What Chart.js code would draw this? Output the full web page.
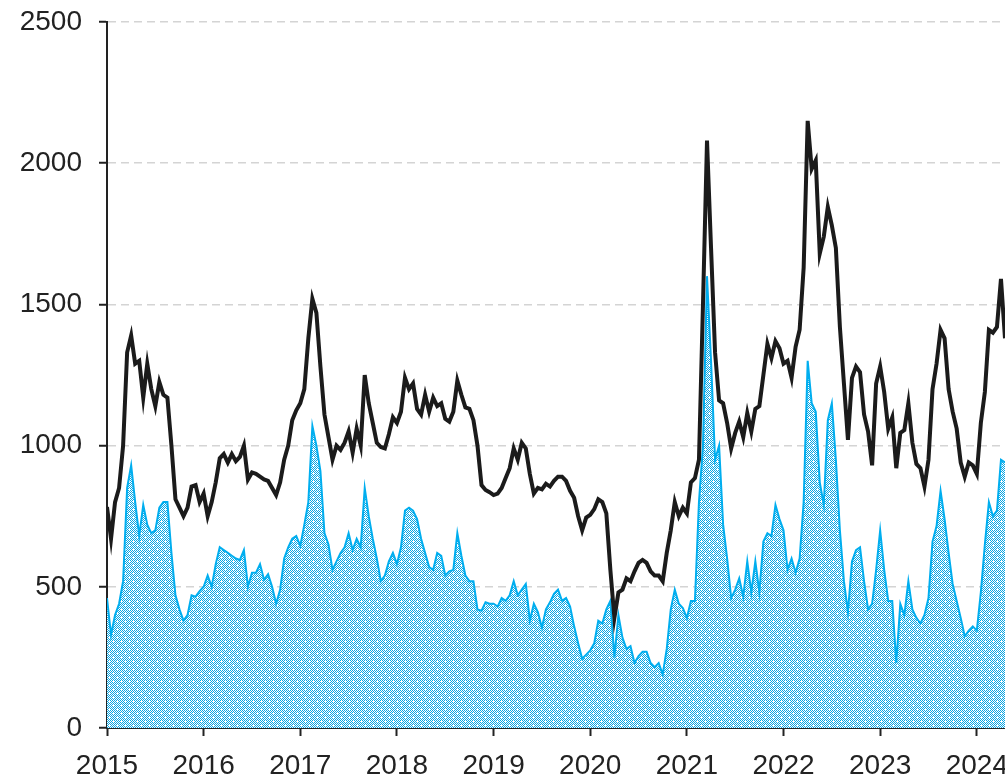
<!DOCTYPE html>
<html>
<head>
<meta charset="utf-8">
<script src="https://cdn.jsdelivr.net/npm/chart.js@4.4.1/dist/chart.umd.min.js"></script>
<style>
  html, body { margin: 0; padding: 0; background: #fff; }
  canvas { display: block; }
</style>
</head>
<body>
<canvas id="priceChart" width="1005" height="777"></canvas>
<script>
// Half-monthly readings, starting January 2015
const startYear = 2015;
const stepsPerYear = 24;

const yearTicks = [2015, 2016, 2017, 2018, 2019, 2020, 2021, 2022, 2023, 2024];
const valueTicks = [0, 500, 1000, 1500, 2000, 2500];

const blackSeries = [
  783, 670, 800, 850, 1000, 1330, 1390, 1290, 1300, 1170, 1290, 1200, 1140, 1225, 1180, 1170, 1000, 810, 780, 750, 780, 855, 860, 800,
  830, 750, 800, 870, 955, 970, 940, 970, 945, 960, 1000, 880, 905, 900, 890, 880, 875, 850, 825, 870, 950, 1000, 1090, 1125,
  1150, 1200, 1380, 1520, 1470, 1280, 1110, 1030, 950, 1000, 985, 1010, 1050, 975, 1060, 1000, 1250, 1150, 1080, 1010, 995, 990, 1040, 1100,
  1080, 1120, 1240, 1200, 1220, 1130, 1110, 1180, 1120, 1170, 1140, 1150, 1095, 1085, 1120, 1230, 1180, 1135, 1130, 1090, 1000, 860, 843, 835,
  825, 830, 850, 885, 920, 990, 950, 1010, 990, 900, 830, 850, 845, 865, 855, 875, 890, 890, 875, 840, 815, 750, 700, 745,
  755, 775, 810, 800, 760, 560, 390, 480, 490, 530, 520, 555, 585, 595, 585, 555, 540, 540, 520, 620, 700, 800, 750, 780,
  760, 870, 885, 950, 1500, 2080, 1700, 1330, 1160, 1150, 1080, 990, 1045, 1085, 1030, 1115, 1050, 1130, 1140, 1250, 1360, 1310, 1370, 1345,
  1290, 1300, 1240, 1350, 1410, 1630, 2150, 1980, 2010, 1680, 1740, 1845, 1780, 1700, 1420, 1220, 1020, 1240, 1280, 1260, 1110, 1050, 930, 1220,
  1280, 1190, 1060, 1100, 920, 1045, 1055, 1150, 1010, 935, 920, 855, 950, 1200, 1290, 1410, 1380, 1200, 1120, 1060, 940, 890, 940, 930,
  900, 1080, 1190, 1410, 1400, 1420, 1590, 1380
];

const blueSeries = [
  460, 330, 400, 440, 520, 850, 930, 800, 680, 790, 720, 690, 700, 780, 800, 800, 620, 470, 420, 380, 400, 470, 465, 485,
  500, 540, 500, 580, 640, 630, 620, 610, 600, 595, 630, 500, 550, 550, 580, 525, 545, 500, 440, 490, 600, 640, 670, 680,
  645, 720, 800, 1070, 1000, 910, 690, 650, 560, 590, 620, 640, 690, 630, 670, 640, 850, 750, 670, 600, 520, 540, 590, 620,
  580, 640, 770, 780, 770, 740, 670, 620, 570, 560, 620, 610, 540, 555, 560, 690, 610, 540, 520, 520, 420, 415, 445, 440,
  440, 430, 460, 450, 470, 520, 470, 490, 510, 380, 440, 410, 355, 420, 445, 475, 490, 450, 460, 430, 360, 300, 245, 260,
  275, 300, 380, 370, 420, 450, 250, 400, 320, 280, 290, 230, 255, 270, 270, 230, 215, 230, 190, 280, 420, 490, 440, 425,
  390, 450, 450, 800, 1000, 1600, 1300, 950, 1000, 720, 600, 460, 490, 530, 465, 590, 480, 590, 480, 660, 690, 680, 790, 740,
  700, 560, 600, 550, 600, 800, 1300, 1150, 1120, 870, 790, 1090, 1150, 950, 700, 520, 410, 590, 630, 640, 520, 420, 440, 560,
  700, 560, 450, 450, 230, 440, 400, 520, 420, 390, 370, 400, 460, 660, 715, 840, 740, 620, 510, 450, 390, 325, 345, 360,
  345, 480, 650, 800, 750, 770, 950, 940
];

const lastX = startYear + (blackSeries.length - 1) / stepsPerYear;

function toPoints(values) {
  return values.map((v, i) => ({ x: startYear + i / stepsPerYear, y: v }));
}

// Fine blue/white checker with small white crosses
function makeCheckerPattern(ctx, color) {
  const tile = document.createElement('canvas');
  tile.width = 8;
  tile.height = 8;
  const t = tile.getContext('2d');
  t.fillStyle = '#ffffff';
  t.fillRect(0, 0, 8, 8);
  t.fillStyle = color;
  for (let y = 0; y < 8; y++) {
    for (let x = 0; x < 8; x++) {
      const gap = (x === 1 && y === 1) || (x === 5 && y === 5);
      if ((x + y) % 2 === 0 && !gap) t.fillRect(x, y, 1, 1);
    }
  }
  return ctx.createPattern(tile, 'repeat');
}

const canvas = document.getElementById('priceChart');
const ctx = canvas.getContext('2d');
const blueFill = makeCheckerPattern(ctx, '#0aa6e4');

const tickFont = { family: "'Liberation Sans', Arial, sans-serif", size: 28 };

new Chart(ctx, {
  type: 'line',
  data: {
    datasets: [
      {
        label: 'black',
        data: toPoints(blackSeries),
        borderColor: '#1b1b1b',
        borderWidth: 4,
        pointRadius: 0,
        tension: 0,
        fill: false
      },
      {
        label: 'blue',
        data: toPoints(blueSeries),
        borderColor: '#00aeef',
        borderWidth: 2,
        backgroundColor: blueFill,
        pointRadius: 0,
        tension: 0,
        fill: 'origin'
      }
    ]
  },
  options: {
    responsive: false,
    animation: false,
    layout: { padding: { top: 22, right: 0, left: 0, bottom: 0 } },
    plugins: {
      legend: { display: false },
      tooltip: { enabled: false }
    },
    scales: {
      x: {
        type: 'linear',
        min: startYear,
        max: lastX,
        afterBuildTicks: s => { s.ticks = yearTicks.map(v => ({ value: v })); },
        afterFit: s => {
          s.height = 49;
          s.paddingLeft = 0;
          s.paddingRight = 0;
        },
        ticks: {
          font: tickFont,
          color: '#222',
          padding: 13,
          maxRotation: 0,
          autoSkip: false,
          callback: v => String(v)
        },
        grid: {
          drawOnChartArea: false,
          drawTicks: true,
          tickLength: 8,
          tickWidth: 2,
          tickColor: '#222'
        },
        border: { color: '#222', width: 2 }
      },
      y: {
        min: 0,
        max: 2500,
        afterBuildTicks: s => { s.ticks = valueTicks.map(v => ({ value: v })); },
        afterFit: s => {
          s.width = 107;
          s.paddingTop = 0;
          s.paddingBottom = 0;
        },
        ticks: {
          font: tickFont,
          color: '#222',
          padding: 17,
          callback: v => String(v)
        },
        grid: {
          color: c => (c.tick && c.tick.value === 0) ? 'rgba(0,0,0,0)' : '#d4d4d4',
          lineWidth: 1.5,
          tickLength: 8,
          tickWidth: 2,
          tickColor: '#222',
          tickBorderDash: []
        },
        border: { color: '#222', width: 2, dash: [8, 5] }
      }
    }
  }
});
</script>
</body>
</html>
